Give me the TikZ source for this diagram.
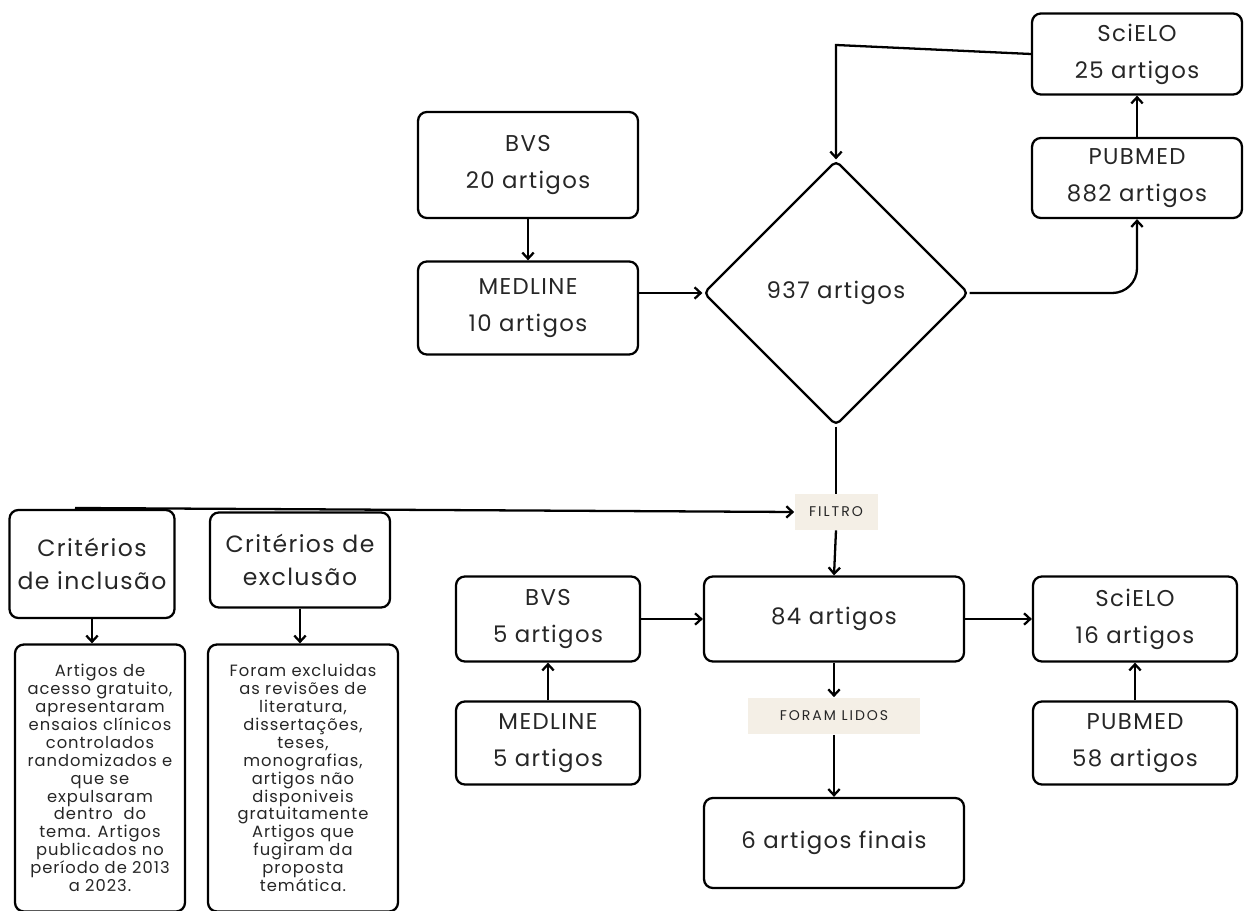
\documentclass[tikz,border=0pt]{standalone}
\usepackage{fontspec}
\setmainfont{Poppins}[LetterSpace=6]
\usepackage{tikz}
\usetikzlibrary{shapes,arrows,positioning,calc,arrows.meta}

\definecolor{tagbeige}{RGB}{244,239,230}
\definecolor{inkgray}{RGB}{38,38,38}

\tikzset{
  dbbox/.style={draw, line width=1.3pt, rounded corners=5pt, align=center, inner sep=2pt, text=inkgray, font=\fontsize{13}{21}\selectfont},
  critbox/.style={dbbox, font=\fontsize{13.4}{18.5}\selectfont},
  notebox/.style={dbbox, font=\fontsize{9.3}{10.2}\selectfont},
  tag/.style={fill=tagbeige, inner sep=0pt, text=inkgray, font=\fontsize{8}{9}\selectfont\addfontfeatures{LetterSpace=14}},
  arr/.style={-{Straight Barb[length=3.5pt,width=6.5pt]}, line width=1.3pt},
  link/.style={line width=1.3pt}
}

\begin{document}
\begin{tikzpicture}[x=0.02cm, y=-0.02cm]
    \useasboundingbox (0,0) rectangle (1244,911);

    % first search
    \node[dbbox, minimum width=4.4cm, minimum height=2.12cm] (bvsA) at (528,165) {BVS\\20 artigos};
    \node[dbbox, minimum width=4.4cm, minimum height=1.86cm] (medA) at (528,308) {MEDLINE\\10 artigos};
    \node[draw, diamond, line width=1.3pt, rounded corners=3pt, inner sep=0pt, minimum width=5.3cm, minimum height=5.3cm, text=inkgray, font=\fontsize{13}{21}\selectfont] (total) at (836,293) {937 artigos};
    \node[dbbox, minimum width=4.2cm, minimum height=1.62cm] (scieloA) at (1137,54) {SciELO\\25 artigos};
    \node[dbbox, minimum width=4.2cm, minimum height=1.6cm] (pubA) at (1137,178) {PUBMED\\882 artigos};
    \coordinate (topbend) at (836,45);

    \draw[arr] (bvsA.south) -- (medA.north);
    \draw[arr] (medA.east |- total.west) -- (total.west);
    \draw[arr] (scieloA.west) -- (topbend) -- (total.north);
    \draw[arr] (pubA.north) -- (scieloA.south);
    \draw[arr, rounded corners=14pt] (total.east) -| (pubA.south);

    % filter
    \node[tag, minimum width=1.66cm, minimum height=0.72cm] (filtro) at (836,512) {FILTRO};
    \coordinate (critline) at (75,508);
    \draw[link] (total.south) -- (filtro.north);
    \draw[arr] (critline) -- (filtro.west);

    % criteria
    \node[critbox, minimum width=3.3cm, minimum height=2.16cm] (critI) at (92,564) {Critérios\\de inclusão};
    \node[critbox, minimum width=3.6cm, minimum height=1.9cm] (critE) at (300,560) {Critérios de\\exclusão};
    \node[notebox, minimum width=3.4cm, minimum height=5.34cm] (textI) at (100,778) {Artigos de\\acesso gratuito,\\apresentaram\\ensaios clínicos\\controlados\\randomizados e\\que se\\expulsaram\\dentro~ do\\tema. Artigos\\publicados no\\período de 2013\\a 2023.};
    \node[notebox, minimum width=3.8cm, minimum height=5.34cm] (textE) at (303,778) {Foram excluidas\\as revisões de\\literatura,\\dissertações,\\teses,\\monografias,\\artigos não\\disponiveis\\gratuitamente\\Artigos que\\fugiram da\\proposta\\temática.};
    \draw[arr] (critI.south) -- (critI.south |- textI.north);
    \draw[arr] (critE.south) -- (critE.south |- textE.north);

    % second search
    \node[dbbox, minimum width=5.2cm, minimum height=1.7cm] (total2) at (834,619) {84 artigos};
    \node[dbbox, minimum width=3.68cm, minimum height=1.7cm] (bvsB) at (548,619) {BVS\\5 artigos};
    \node[dbbox, minimum width=3.68cm, minimum height=1.66cm] (medB) at (548,743) {MEDLINE\\5 artigos};
    \node[dbbox, minimum width=4.08cm, minimum height=1.7cm] (scieloB) at (1135,619) {SciELO\\16 artigos};
    \node[dbbox, minimum width=4.08cm, minimum height=1.66cm] (pubB) at (1135,743) {PUBMED\\58 artigos};
    \node[tag, minimum width=3.44cm, minimum height=0.74cm] (lidos) at (834,716) {FORAM LIDOS};
    \node[dbbox, minimum width=5.2cm, minimum height=1.8cm] (final) at (834,843) {6 artigos finais};

    \draw[arr] (filtro.south) -- (total2.north);
    \draw[arr] (bvsB.east) -- (total2.west);
    \draw[arr] (medB.north) -- (bvsB.south);
    \draw[arr] (total2.east) -- (scieloB.west);
    \draw[arr] (pubB.north) -- (scieloB.south);
    \draw[arr] (total2.south) -- (lidos.north);
    \draw[arr] (lidos.south) -- (final.north);

\end{tikzpicture}
\end{document}
